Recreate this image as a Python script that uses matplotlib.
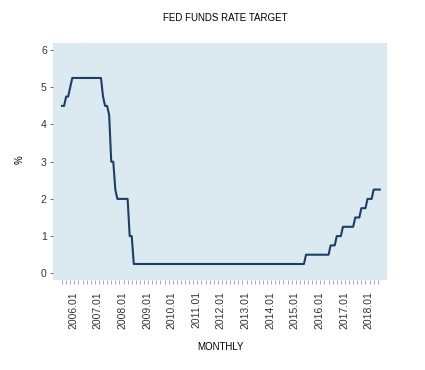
import matplotlib
matplotlib.use("Agg")
import matplotlib.pyplot as plt
import numpy as np

# month-end fed funds target (upper bound), 2006.01 .. 2018.12
rate_2006 = [4.50, 4.50, 4.75, 4.75, 5.00, 5.25, 5.25, 5.25, 5.25, 5.25, 5.25, 5.25]
rate_2007 = [5.25, 5.25, 5.25, 5.25, 5.25, 5.25, 5.25, 5.25, 4.75, 4.50, 4.50, 4.25]
rate_2008 = [3.00, 3.00, 2.25, 2.00, 2.00, 2.00, 2.00, 2.00, 2.00, 1.00, 1.00, 0.25]
rate_2009 = [0.25, 0.25, 0.25, 0.25, 0.25, 0.25, 0.25, 0.25, 0.25, 0.25, 0.25, 0.25]
rate_2010 = [0.25, 0.25, 0.25, 0.25, 0.25, 0.25, 0.25, 0.25, 0.25, 0.25, 0.25, 0.25]
rate_2011 = [0.25, 0.25, 0.25, 0.25, 0.25, 0.25, 0.25, 0.25, 0.25, 0.25, 0.25, 0.25]
rate_2012 = [0.25, 0.25, 0.25, 0.25, 0.25, 0.25, 0.25, 0.25, 0.25, 0.25, 0.25, 0.25]
rate_2013 = [0.25, 0.25, 0.25, 0.25, 0.25, 0.25, 0.25, 0.25, 0.25, 0.25, 0.25, 0.25]
rate_2014 = [0.25, 0.25, 0.25, 0.25, 0.25, 0.25, 0.25, 0.25, 0.25, 0.25, 0.25, 0.25]
rate_2015 = [0.25, 0.25, 0.25, 0.25, 0.25, 0.25, 0.25, 0.25, 0.25, 0.25, 0.25, 0.50]
rate_2016 = [0.50, 0.50, 0.50, 0.50, 0.50, 0.50, 0.50, 0.50, 0.50, 0.50, 0.50, 0.75]
rate_2017 = [0.75, 0.75, 1.00, 1.00, 1.00, 1.25, 1.25, 1.25, 1.25, 1.25, 1.25, 1.50]
rate_2018 = [1.50, 1.50, 1.75, 1.75, 1.75, 2.00, 2.00, 2.00, 2.25, 2.25, 2.25, 2.25]

tick_labels = ["2006.01", "2007.01", "2008.01", "2009.01", "2010.01", "2011.01", "2012.01",
               "2013.01", "2014.01", "2015.01", "2016.01", "2017.01", "2018.01"]

rates = (rate_2006 + rate_2007 + rate_2008 + rate_2009 + rate_2010 + rate_2011 + rate_2012
         + rate_2013 + rate_2014 + rate_2015 + rate_2016 + rate_2017 + rate_2018)
months = np.arange(len(rates))

plt.rcParams["font.family"] = ["Liberation Sans", "DejaVu Sans"]

fig = plt.figure(figsize=(4.25, 3.7), dpi=100)
ax = fig.add_axes([53 / 425, 1 - 280 / 370, 334 / 425, 237 / 370])
ax.set_facecolor("#dbeaf1")
ax.plot(months, rates, color="#1d3f66", lw=1.5)

ax.set_xlim(-4.4, 158.5)
ax.set_ylim(-0.18, 6.19)
for s in ax.spines.values():
    s.set_visible(False)

ax.set_yticks(range(7))
ax.tick_params(axis="y", labelsize=7.5, colors="#333333", length=2.5, width=0.5, pad=2)

ax.set_xticks(np.arange(len(tick_labels)) * 12 + 5.5)
ax.set_xticklabels(tick_labels, rotation=90)
ax.set_xticks(np.arange(0, len(rates), 2), minor=True)
ax.tick_params(axis="x", which="major", labelsize=7.5, colors="#333333", length=0, pad=8)
ax.tick_params(axis="x", which="minor", length=3, width=0.5, color="#888888")

fig.text(0.53, 1 - 18 / 370, "FED FUNDS RATE TARGET", ha="center", va="center", fontsize=7)
fig.text(20 / 425, 1 - 160 / 370, "%", ha="center", va="center", fontsize=7, rotation=90)
fig.text(220 / 425, 1 - 347 / 370, "MONTHLY", ha="center", va="center", fontsize=7)

fig.savefig("out.png", dpi=100)
